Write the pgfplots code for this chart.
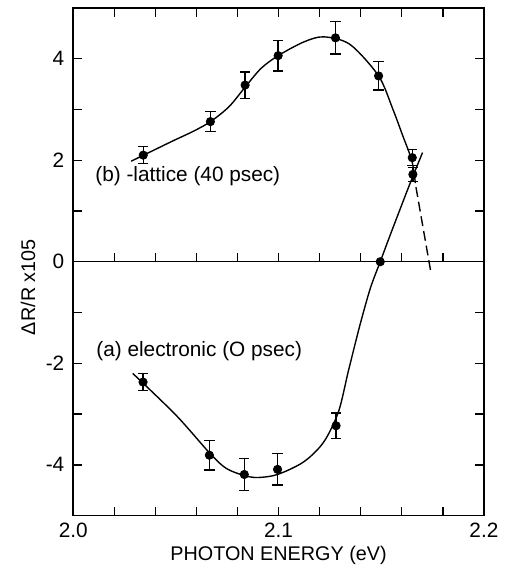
\documentclass[border=0pt]{standalone}
\usepackage{fontspec}
\setmainfont{Liberation Sans}
\usepackage{pgfplots}
\pgfplotsset{compat=1.18}

\begin{document}
\begin{tikzpicture}
\begin{axis}[
    scale only axis,
    width=207.5pt, height=256.5pt,
    xmin=2.0, xmax=2.2,
    ymin=-5, ymax=5,
    xtick={2.0,2.1,2.2},
    xticklabels={2.0,2.1,2.2},
    minor xtick={2.02,2.04,2.06,2.08,2.12,2.14,2.16,2.18},
    ytick={-4,-2,0,2,4},
    yticklabels={-4,-2,0,2,4},
    minor ytick={-3,-1,1,3},
    tick align=inside,
    major tick length=4.5pt, minor tick length=4.5pt,
    every tick/.style={black, line width=0.7pt},
    axis line style={line width=0.8pt},
    ticklabel style={font=\fontsize{10.5}{12}\selectfont},
    yticklabel style={xshift=-1pt},
    xlabel={PHOTON ENERGY (eV)},
    ylabel={ΔR/R x105},
    label style={font=\fontsize{10}{12}\selectfont},
    xlabel style={at={(axis description cs:0.5,0)}, anchor=center, yshift=-20pt},
    ylabel style={at={(axis description cs:-0.11,0.45)}, anchor=center},
    clip=false,
]
% zero line with upward ticks
\addplot[black, line width=0.7pt] coordinates {(2.0,0) (2.2,0)};
\pgfplotsinvokeforeach{2.02,2.04,2.06,2.08,2.10,2.12,2.14,2.16,2.18}{
    \draw[line width=0.7pt] (axis cs:#1,0) -- ++(0pt,4.5pt);
}

% (b) lattice, fitted curve
\addplot[black, line width=0.7pt, smooth] coordinates {
    (2.0282,1.98) (2.0480,2.37) (2.0590,2.58) (2.0672,2.77) (2.0760,3.06)
    (2.0841,3.46) (2.0915,3.81) (2.0998,4.06) (2.1123,4.33) (2.1220,4.43)
    (2.1348,4.28) (2.1487,3.66) (2.1556,3.01) (2.1604,2.49) (2.1649,1.99)
    (2.1666,1.55)
};
% dashed extrapolation
\addplot[black, line width=0.7pt, dash pattern=on 5pt off 2.5pt] coordinates {
    (2.1669,1.47) (2.1743,-0.24)
};
% (b) data with error bars
\addplot[black, only marks, mark=*, mark size=2.1pt,
    error bars/.cd, y dir=both, y explicit,
    error bar style={line width=0.7pt},
    error mark options={rotate=90, mark size=2.6pt, line width=0.7pt}]
    coordinates {
    (2.0341,2.10) +- (0,0.17)
    (2.0668,2.76) +- (0,0.20)
    (2.0837,3.48) +- (0,0.26)
    (2.0998,4.06) +- (0,0.30)
    (2.1277,4.41) +- (0,0.32)
    (2.1487,3.66) +- (0,0.28)
    (2.1651,2.05) +- (0,0.16)
    (2.1654,1.72) +- (0,0.14)
};

% (a) electronic, fitted curve
\addplot[black, line width=0.7pt, smooth] coordinates {
    (2.0290,-2.20) (2.0500,-3.02) (2.0667,-3.78) (2.0745,-4.07) (2.0832,-4.21)
    (2.0899,-4.25) (2.0995,-4.19) (2.1123,-3.94) (2.1220,-3.55) (2.1292,-2.95)
    (2.1340,-2.15) (2.1396,-1.25) (2.1447,-0.52) (2.1495,0.00) (2.1543,0.52)
    (2.1636,1.50) (2.1701,2.15)
};
% (a) data with error bars
\addplot[black, only marks, mark=*, mark size=2.1pt,
    error bars/.cd, y dir=both, y explicit,
    error bar style={line width=0.7pt},
    error mark options={rotate=90, mark size=2.6pt, line width=0.7pt}]
    coordinates {
    (2.0340,-2.37) +- (0,0.17)
    (2.0663,-3.81) +- (0,0.29)
    (2.0833,-4.19) +- (0,0.31)
    (2.0995,-4.09) +- (0,0.31)
    (2.1280,-3.23) +- (0,0.25)
};
\addplot[black, only marks, mark=*, mark size=2.1pt] coordinates {(2.1495,0)};

\node[anchor=west, inner sep=0pt, font=\fontsize{10.5}{12}\selectfont]
    at (axis cs:2.0106,1.69) {(b) -lattice (40 psec)};
\node[anchor=west, inner sep=0pt, font=\fontsize{10.5}{12}\selectfont]
    at (axis cs:2.0111,-1.76) {(a) electronic (O psec)};
\end{axis}
\path (current axis.south west) ++(-37pt,-25pt) coordinate (bbl);
\path (current axis.north east) ++(6.5pt,4pt) coordinate (btr);
\path (bbl) rectangle (btr);
\end{tikzpicture}
\end{document}
